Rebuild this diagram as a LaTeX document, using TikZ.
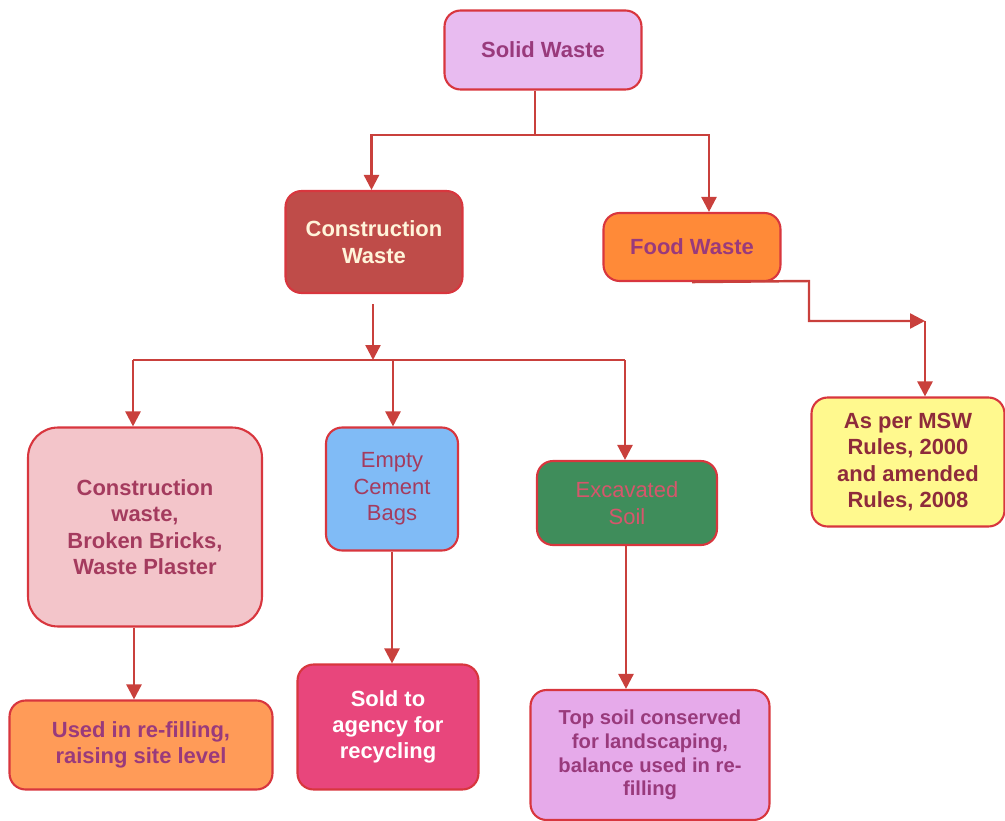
\documentclass[tikz,border=0pt]{standalone}
\usepackage{fontspec}
\setmainfont{Liberation Sans}
\usetikzlibrary{arrows.meta}

\definecolor{edge}{HTML}{D8363E}
\definecolor{wire}{HTML}{C9403C}
\definecolor{solidfill}{HTML}{E8BBF0}
\definecolor{cwfill}{HTML}{BF4C49}
\definecolor{foodfill}{HTML}{FF8A38}
\definecolor{brickfill}{HTML}{F3C5CA}
\definecolor{cementfill}{HTML}{80BBF6}
\definecolor{soilfill}{HTML}{3F8D5B}
\definecolor{mswfill}{HTML}{FFF98E}
\definecolor{refillfill}{HTML}{FF9B58}
\definecolor{soldfill}{HTML}{E8467C}
\definecolor{topfill}{HTML}{E6AAEA}
\definecolor{plum}{HTML}{993A7C}
\definecolor{rose}{HTML}{A43B5E}
\definecolor{soiltext}{HTML}{D6566C}
\definecolor{cream}{HTML}{FFF4DA}
\definecolor{brickred}{HTML}{8E2B3B}

\begin{document}
\begin{tikzpicture}
  [x=0.02cm,y=-0.02cm,
   every node/.style={draw=edge,line width=1.2pt,rounded corners=0.32cm,align=center,
     font=\fontsize{12.5}{15}\selectfont\bfseries,inner sep=2pt},
   arr/.style={draw=wire,line width=1.4pt,-{Triangle[length=0.3cm,width=0.3cm]}},
   wire/.style={draw=wire,line width=1.4pt}]
  \useasboundingbox (0,0) rectangle (1005,821);

  \node[fill=solidfill,text=plum,minimum width=3.94cm,minimum height=1.58cm] (solid) at (543,50) {Solid Waste};
  \node[fill=cwfill,text=cream,minimum width=3.54cm,minimum height=2.04cm] (cw) at (374,242) {Construction\\Waste};
  \node[fill=foodfill,text=plum,minimum width=3.54cm,minimum height=1.36cm] (food) at (692,247) {Food Waste};
  \node[fill=brickfill,text=rose,minimum width=4.68cm,minimum height=3.98cm,rounded corners=0.6cm] (brick) at (145,527) {Construction\\waste,\\Broken Bricks,\\Waste Plaster};
  \node[fill=cementfill,text=rose,minimum width=2.64cm,minimum height=2.46cm,font=\fontsize{12.5}{15}\selectfont] (cement) at (392,489) {Empty\\Cement\\Bags};
  \node[fill=soilfill,text=soiltext,minimum width=3.6cm,minimum height=1.68cm,font=\fontsize{12.5}{15}\selectfont] (soil) at (627,503) {Excavated\\Soil};
  \node[fill=mswfill,text=brickred,minimum width=3.86cm,minimum height=2.58cm] (msw) at (908,462) {As per MSW\\Rules, 2000\\and amended\\Rules, 2008};
  \node[fill=refillfill,text=plum,minimum width=5.26cm,minimum height=1.78cm] (refill) at (141,745) {Used in re-filling,\\raising site level};
  \node[fill=soldfill,text=white,minimum width=3.62cm,minimum height=2.5cm] (sold) at (388,727) {Sold to\\agency for\\recycling};
  \node[fill=topfill,text=plum,minimum width=4.78cm,minimum height=2.6cm,font=\fontsize{11.5}{13.5}\selectfont\bfseries] (topsoil) at (650,755) {Top soil conserved\\for landscaping,\\balance used in re-\\filling};

  \coordinate (j1) at (535,135);
  \coordinate (j2) at (373,360);
  \coordinate (k1) at (809,281);
  \coordinate (k2) at (925,321);

  \draw[wire] (solid.south -| j1) -- (j1);
  \draw[arr] (j1) -| ([xshift=-0.05cm]cw.north);
  \draw[arr] (j1) -| ([xshift=0.34cm]food.north);
  \draw[arr] ([yshift=-0.2cm]cw.south -| j2) -- (j2);
  \draw[wire] ([xshift=-0.24cm]brick.north |- j2) -- ([xshift=-0.04cm]soil.north |- j2);
  \foreach \to/\dx in {brick/-0.24cm,cement/0.02cm,soil/-0.04cm}
    \draw[arr] ([xshift=\dx]\to.north |- j2) -- ([xshift=\dx]\to.north);

  \draw[arr] ([xshift=-0.22cm]brick.south) -- ([xshift=-0.22cm]brick.south |- refill.north);
  \draw[arr] (cement.south) -- (cement.south |- sold.north);
  \draw[arr] ([xshift=-0.02cm]soil.south) -- ([xshift=-0.02cm]soil.south |- topsoil.north);

  \draw[arr] (food.south) -- (k1) |- (k2);
  \draw[arr] (k2) -- (k2 |- msw.north);
\end{tikzpicture}
\end{document}
